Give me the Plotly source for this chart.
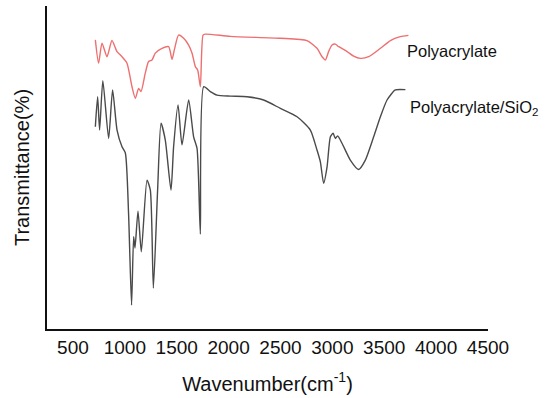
import plotly.graph_objects as go

# Polyacrylate (red) spectrum: wavenumber (cm-1) and relative transmittance
pa_wn = [716, 747, 780, 828, 876, 925, 973, 1021, 1069, 1101, 1133, 1156, 1197, 1229,
         1262, 1294, 1358, 1422, 1455, 1477, 1518, 1567, 1615, 1648, 1680, 1702, 1728,
         1754, 1776, 2017, 2499, 2756, 2852, 2901, 2933, 2964, 2997, 3029, 3061, 3142,
         3205, 3270, 3350, 3463, 3559, 3655, 3733]
pa_t = [89.5, 82.3, 88.5, 84.3, 89.3, 85.9, 84.3, 82.3, 75.0, 71.4, 74.5, 73.5, 79.2, 82.8,
        83.3, 85.4, 86.9, 87.4, 83.5, 86.4, 91.0, 90.0, 87.9, 85.4, 81.2, 80.2, 75.0,
        91.0, 91.3, 90.6, 90.0, 89.3, 86.9, 84.3, 83.3, 85.9, 87.9, 88.2, 87.4, 85.9,
        84.5, 83.8, 84.3, 86.9, 89.3, 90.5, 90.9]

# Polyacrylate/SiO2 (dark) spectrum
ps_wn = [716, 738, 757, 788, 844, 882, 925, 973, 1005, 1036, 1065, 1085, 1098, 1127,
         1159, 1214, 1246, 1275, 1316, 1349, 1390, 1445, 1470, 1513, 1551, 1615, 1663,
         1696, 1728, 1760, 1824, 1889, 2017, 2178, 2338, 2499, 2660, 2788, 2852, 2884,
         2916, 2949, 2981, 3007, 3029, 3051, 3093, 3173, 3253, 3318, 3398, 3463, 3527,
         3607, 3704]
ps_t = [62.6, 71.9, 61.6, 76.9, 59.0, 74.0, 61.6, 56.4, 54.5, 35.8, 7.4, 28.6, 25.1, 36.5,
        23.9, 46.1, 43.0, 12.7, 43.0, 63.7, 58.5, 43.0, 56.4, 69.4, 57.0, 70.9, 59.5,
        55.9, 29.4, 75.0, 73.5, 72.4, 72.1, 71.9, 70.9, 68.3, 65.7, 61.6, 55.4, 51.8,
        45.1, 50.2, 59.5, 60.6, 59.0, 59.8, 57.5, 52.3, 49.4, 52.3, 59.5, 65.7, 70.9,
        74.0, 74.1]

x_ticks = [500, 1000, 1500, 2000, 2500, 3000, 3500, 4000, 4500]
labels = ["Polyacrylate", "Polyacrylate/SiO<sub>2</sub>"]
label_pos_wn = [3704, 3733]
label_pos_t = [86.1, 68.4]

fig = go.Figure()
fig.add_trace(go.Scatter(x=pa_wn, y=pa_t, mode="lines",
                         line=dict(color="#ee6f6f", width=1.4, shape="spline", smoothing=0.6),
                         showlegend=False))
fig.add_trace(go.Scatter(x=ps_wn, y=ps_t, mode="lines",
                         line=dict(color="#4a4a4a", width=1.4, shape="spline", smoothing=0.6),
                         showlegend=False))

for txt, xw, yt in zip(labels, label_pos_wn, label_pos_t):
    fig.add_annotation(x=xw, y=yt, text=txt, showarrow=False, xanchor="left",
                       yanchor="middle", xref="x", yref="y",
                       font=dict(family="Liberation Sans, Arial", size=16.5, color="#111"))

fig.update_layout(
    width=547, height=398,
    margin=dict(l=47, r=59, t=6, b=69),
    paper_bgcolor="white", plot_bgcolor="white",
    font=dict(family="Liberation Sans, Arial", color="#111"),
)
fig.update_xaxes(range=[250, 4500], tickvals=x_ticks, ticktext=[str(v) for v in x_ticks],
                 showgrid=False, zeroline=False, showline=True, linecolor="#111", linewidth=2,
                 ticks="", tickfont=dict(size=19), automargin=False,
                 title=dict(text="Wavenumber(cm<sup>-1</sup>)", font=dict(size=20), standoff=20))
fig.update_yaxes(range=[0, 100], showgrid=False, zeroline=False, showline=True,
                 linecolor="#111", linewidth=2, showticklabels=False, ticks="",
                 automargin=False,
                 title=dict(text="Transmittance(%)", font=dict(size=20), standoff=10))

fig.write_html("out.html")
